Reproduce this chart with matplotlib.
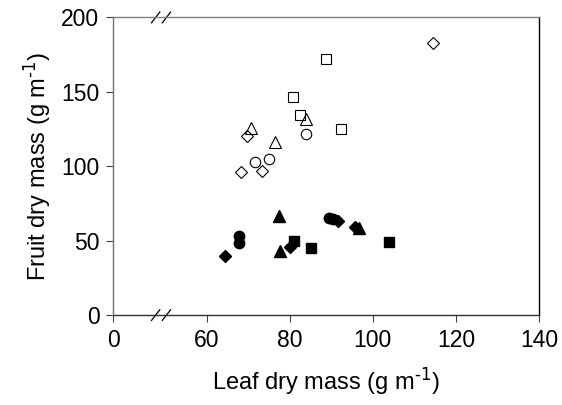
import matplotlib
matplotlib.use("Agg")
import matplotlib.pyplot as plt
from matplotlib.lines import Line2D

plt.rcParams['font.family'] = ['Liberation Sans', 'DejaVu Sans']
plt.rcParams['mathtext.default'] = 'regular'

# open symbols (upper cloud)
open_sq_x = [80.7, 82.4, 88.6, 92.4]
open_sq_y = [146.5, 134.5, 172.0, 125.0]
open_tri_x = [70.7, 76.4, 83.8]
open_tri_y = [125.5, 116.5, 131.5]
open_circ_x = [71.6, 75.1, 83.8]
open_circ_y = [103.0, 104.6, 121.5]
open_dia_x = [68.3, 69.7, 73.3, 114.6]
open_dia_y = [96.0, 120.5, 97.0, 183.0]

# filled symbols (lower cloud)
fill_sq_x = [81.0, 85.2, 103.8]
fill_sq_y = [49.9, 44.8, 49.0]
fill_tri_x = [77.5, 77.7, 96.6]
fill_tri_y = [66.5, 43.2, 58.5]
fill_circ_x = [67.8, 67.8, 89.5, 90.5]
fill_circ_y = [53.0, 48.2, 65.0, 64.5]
fill_dia_x = [64.3, 80.0, 91.5, 95.6]
fill_dia_y = [39.7, 45.9, 63.0, 59.5]

xticks = [60, 80, 100, 120, 140]
yticks = [0, 50, 100, 150, 200]
x_zero = 37.5  # where "0" sits on the broken x axis

fig = plt.figure(figsize=(5.62, 4.05), dpi=100)
ax = fig.add_axes([0.2016, 0.222, 0.7574, 0.735])

ms = 7
ax.plot(open_sq_x, open_sq_y, 's', ms=ms, mfc='white', mec='black', mew=0.8, ls='none')
ax.plot(open_tri_x, open_tri_y, '^', ms=ms + 1, mfc='none', mec='black', mew=0.8, ls='none')
ax.plot(open_circ_x, open_circ_y, 'o', ms=ms + 0.5, mfc='none', mec='black', mew=0.8, ls='none')
ax.plot(open_dia_x, open_dia_y, 'D', ms=ms - 0.5, mfc='none', mec='black', mew=0.8, ls='none')

ax.plot(fill_sq_x, fill_sq_y, 's', ms=ms, color='black', ls='none')
ax.plot(fill_tri_x, fill_tri_y, '^', ms=ms + 1, color='black', ls='none')
ax.plot(fill_circ_x, fill_circ_y, 'o', ms=ms + 0.5, color='black', ls='none')
ax.plot(fill_dia_x, fill_dia_y, 'D', ms=ms - 0.5, color='black', ls='none')

ax.set_xlim(x_zero, 140)
ax.set_ylim(0, 200)
ax.set_xticks([x_zero] + xticks)
ax.set_xticklabels(['0'] + [str(t) for t in xticks])
ax.set_yticks(yticks)
ax.tick_params(axis='both', direction='out', length=5, width=0.8, labelsize=16.5,
               colors='#404040', labelcolor='black', pad=5)

ax.spines['left'].set_color('#707070')
ax.spines['top'].set_color('#808080')
ax.spines['right'].set_color('black')
ax.spines['bottom'].set_color('#303030')
for s in ax.spines.values():
    s.set_linewidth(1.0)

ax.set_xlabel(r'Leaf dry mass (g m$^{\text{-1}}$)', fontsize=17, labelpad=10)
ax.set_ylabel(r'Fruit dry mass (g m$^{\text{-1}}$)', fontsize=17, labelpad=6)

# break marks on top and bottom spines
trans = ax.get_xaxis_transform()
bx = 49.0
for yy in (0.0, 1.0):
    for dx in (-1.3, 1.3):
        ax.add_line(Line2D([bx + dx - 1.0, bx + dx + 1.0], [yy - 0.018, yy + 0.018],
                           transform=trans, color='black', lw=0.9, clip_on=False))

fig.savefig('out.png', dpi=100)
